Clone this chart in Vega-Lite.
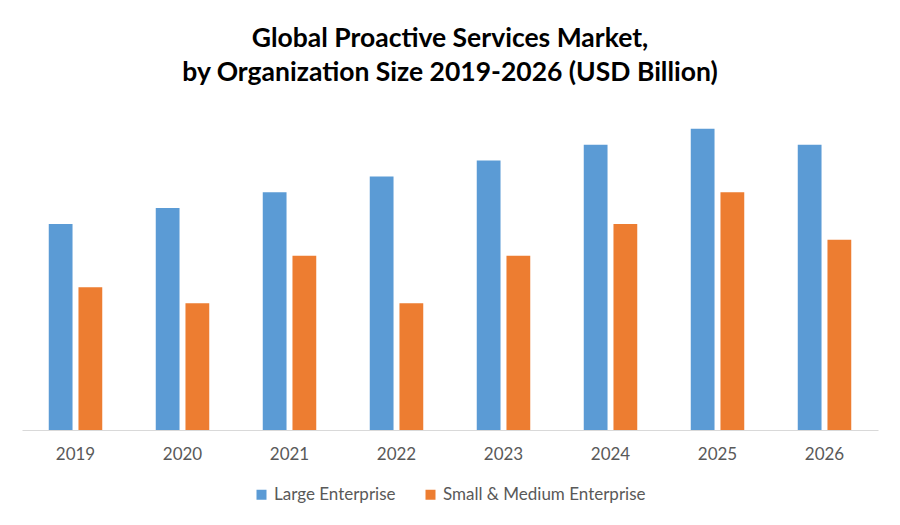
{
  "$schema": "https://vega.github.io/schema/vega-lite/v6.json",
  "autosize": "none",
  "width": 856,
  "height": 317,
  "padding": {"left": 22, "top": 113, "right": 22, "bottom": 95},
  "background": "white",
  "title": {
    "text": ["Global Proactive Services Market,", "by Organization Size 2019-2026 (USD Billion)"],
    "font": "Lato",
    "fontSize": 26.5,
    "fontWeight": "bold",
    "color": "#000000",
    "lineHeight": 34,
    "anchor": "middle",
    "frame": "group",
    "baseline": "alphabetic",
    "offset": 6
  },
  "data": {
    "values": [
      {"year": "2019", "segment": "Large Enterprise", "value": 13},
      {"year": "2019", "segment": "Small & Medium Enterprise", "value": 9},
      {"year": "2020", "segment": "Large Enterprise", "value": 14},
      {"year": "2020", "segment": "Small & Medium Enterprise", "value": 8},
      {"year": "2021", "segment": "Large Enterprise", "value": 15},
      {"year": "2021", "segment": "Small & Medium Enterprise", "value": 11},
      {"year": "2022", "segment": "Large Enterprise", "value": 16},
      {"year": "2022", "segment": "Small & Medium Enterprise", "value": 8},
      {"year": "2023", "segment": "Large Enterprise", "value": 17},
      {"year": "2023", "segment": "Small & Medium Enterprise", "value": 11},
      {"year": "2024", "segment": "Large Enterprise", "value": 18},
      {"year": "2024", "segment": "Small & Medium Enterprise", "value": 13},
      {"year": "2025", "segment": "Large Enterprise", "value": 19},
      {"year": "2025", "segment": "Small & Medium Enterprise", "value": 15},
      {"year": "2026", "segment": "Large Enterprise", "value": 18},
      {"year": "2026", "segment": "Small & Medium Enterprise", "value": 12}
    ]
  },
  "mark": {"type": "bar"},
  "encoding": {
    "x": {
      "field": "year",
      "type": "nominal",
      "title": null,
      "scale": {"paddingInner": 0.5, "paddingOuter": 0.25},
      "axis": {
        "labelAngle": 0,
        "labelFont": "Lato",
        "labelFontSize": 17,
        "labelColor": "#595959",
        "labelPadding": 16,
        "ticks": false,
        "domainColor": "#d9d9d9",
        "domainWidth": 1
      }
    },
    "xOffset": {
      "field": "segment",
      "type": "nominal",
      "scale": {"paddingInner": 0.2, "paddingOuter": 0}
    },
    "y": {
      "field": "value",
      "type": "quantitative",
      "scale": {"domain": [0, 20]},
      "axis": null
    },
    "color": {
      "field": "segment",
      "type": "nominal",
      "title": null,
      "scale": {
        "domain": ["Large Enterprise", "Small & Medium Enterprise"],
        "range": ["#5b9bd5", "#ed7d31"]
      },
      "legend": {
        "orient": "none",
        "legendX": 231,
        "legendY": 373,
        "direction": "horizontal",
        "symbolType": "square",
        "symbolSize": 100,
        "symbolStrokeWidth": 0,
        "labelFont": "Lato",
        "labelFontSize": 17,
        "labelColor": "#595959",
        "labelLimit": 400,
        "columnPadding": 26
      }
    }
  },
  "config": {"view": {"stroke": null}}
}
